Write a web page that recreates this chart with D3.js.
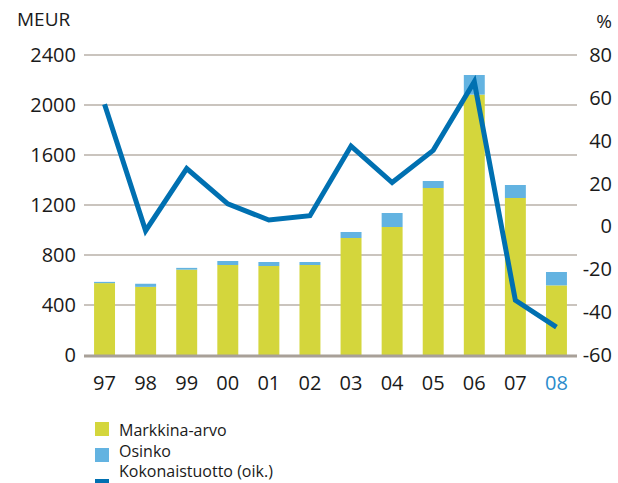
<!DOCTYPE html>
<html>
<head>
<meta charset="utf-8">
<script src="https://cdn.jsdelivr.net/npm/d3@7"></script>
<style>
  body { margin: 0; background: #fff; }
  text { font-family: "Open Sans", "Noto Sans", sans-serif; }
</style>
</head>
<body>
<svg id="chart" width="618" height="483"></svg>
<script>
// data
const years = ["97", "98", "99", "00", "01", "02", "03", "04", "05", "06", "07", "08"];
const marketValue = [575, 545, 683, 720, 712, 720, 936, 1024, 1336, 2083, 1256, 557];
const dividend = [10, 25, 14, 32, 32, 24, 48, 112, 56, 157, 104, 107];
const totalReturn = [57, -2, 27, 10.5, 3, 5, 37.5, 20.5, 35.5, 67.5, -34.5, -47];
const leftTicks = [0, 400, 800, 1200, 1600, 2000, 2400];
const rightTicks = [-60, -40, -20, 0, 20, 40, 60, 80];
const legendLabels = ["Markkina-arvo", "Osinko", "Kokonaistuotto (oik.)"];

const colors = { market: "#d4d63c", dividend: "#63b3e1", line: "#0070b1", grid: "#b8b0a8", axis: "#a8a098" };

const svg = d3.select("#chart");
const plotLeft = 84, plotRight = 577, plotTop = 55, plotBottom = 355;

const x = d3.scaleBand()
    .domain(years)
    .range([plotLeft, plotRight])
    .paddingInner(0.49)
    .paddingOuter(0.245);

const yL = d3.scaleLinear().domain([0, 2400]).range([plotBottom, plotTop]);
const yR = d3.scaleLinear().domain([-60, 80]).range([plotBottom, plotTop]);

// gridlines (left axis)
svg.append("g")
    .selectAll("line")
    .data(leftTicks.filter(d => d > 0))
    .enter()
    .append("line")
    .attr("x1", plotLeft).attr("x2", plotRight)
    .attr("y1", d => yL(d)).attr("y2", d => yL(d))
    .attr("stroke", colors.grid)
    .attr("stroke-width", 1.5);

// bars: market value + dividend stacked
const bars = svg.append("g");
bars.selectAll(".market")
    .data(years)
    .enter()
    .append("rect")
    .attr("x", d => x(d))
    .attr("width", x.bandwidth())
    .attr("y", (d, i) => yL(marketValue[i]))
    .attr("height", (d, i) => yL(0) - yL(marketValue[i]))
    .attr("fill", colors.market);

bars.selectAll(".div")
    .data(years)
    .enter()
    .append("rect")
    .attr("x", d => x(d))
    .attr("width", x.bandwidth())
    .attr("y", (d, i) => yL(marketValue[i] + dividend[i]))
    .attr("height", (d, i) => yL(marketValue[i]) - yL(marketValue[i] + dividend[i]))
    .attr("fill", colors.dividend);

// baseline
svg.append("line")
    .attr("x1", plotLeft).attr("x2", plotRight)
    .attr("y1", yL(0) + 1).attr("y2", yL(0) + 1)
    .attr("stroke", colors.axis)
    .attr("stroke-width", 3);

// total return line (right axis)
const line = d3.line()
    .x((d, i) => x(years[i]) + x.bandwidth() / 2)
    .y(d => yR(d));

svg.append("path")
    .datum(totalReturn)
    .attr("d", line)
    .attr("fill", "none")
    .attr("stroke", colors.line)
    .attr("stroke-width", 5)
    .attr("stroke-linejoin", "miter");

// left axis labels
svg.append("g")
    .selectAll("text")
    .data(leftTicks)
    .enter()
    .append("text")
    .attr("x", 76)
    .attr("y", d => yL(d))
    .attr("dy", "0.35em")
    .attr("text-anchor", "end")
    .attr("font-size", 20)
    .attr("fill", "#1a1a1a")
    .text(d => d);

// right axis labels
svg.append("g")
    .selectAll("text")
    .data(rightTicks)
    .enter()
    .append("text")
    .attr("x", 612)
    .attr("y", d => yR(d))
    .attr("dy", "0.35em")
    .attr("text-anchor", "end")
    .attr("font-size", 20)
    .attr("fill", "#1a1a1a")
    .text(d => d);

// x labels
svg.append("g")
    .selectAll("text")
    .data(years)
    .enter()
    .append("text")
    .attr("x", d => x(d) + x.bandwidth() / 2)
    .attr("y", 383)
    .attr("dy", "0.35em")
    .attr("text-anchor", "middle")
    .attr("font-size", 20)
    .attr("fill", d => d === "08" ? "#2b8ccc" : "#1a1a1a")
    .text(d => d);

// axis titles
svg.append("text")
    .attr("x", 17).attr("y", 26)
    .attr("font-size", 19)
    .attr("fill", "#1a1a1a")
    .text("MEUR");

svg.append("text")
    .attr("x", 612).attr("y", 28)
    .attr("text-anchor", "end")
    .attr("font-size", 19)
    .attr("fill", "#1a1a1a")
    .text("%");

// legend
const legend = svg.append("g");
const legendY = [436, 457, 477];
legend.append("rect").attr("x", 95).attr("y", 422).attr("width", 14).attr("height", 14).attr("fill", colors.market);
legend.append("rect").attr("x", 95).attr("y", 448).attr("width", 14).attr("height", 14).attr("fill", colors.dividend);
legend.append("rect").attr("x", 95).attr("y", 479).attr("width", 14).attr("height", 5).attr("fill", colors.line);

legend.selectAll("text")
    .data(legendLabels)
    .enter()
    .append("text")
    .attr("x", 119)
    .attr("y", (d, i) => legendY[i])
    .attr("font-size", 16)
    .attr("fill", "#1a1a1a")
    .text(d => d);
</script>
</body>
</html>
